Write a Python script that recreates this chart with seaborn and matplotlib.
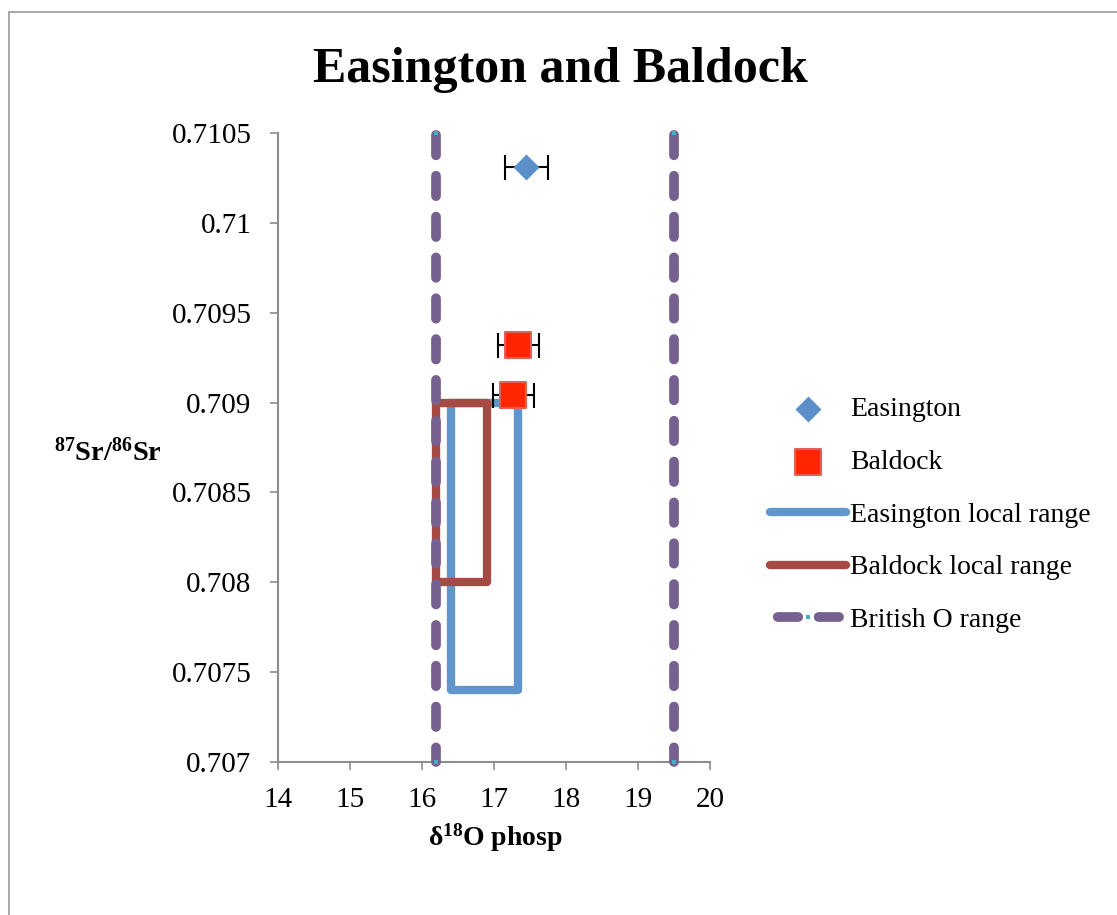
import matplotlib
matplotlib.use("Agg")
import matplotlib.pyplot as plt
import seaborn as sns
import pandas as pd
from matplotlib.patches import Rectangle

# ---- data ----
easington_x = [17.45]
easington_y = [0.71031]
easington_xerr = [0.3]

baldock_x = [17.34, 17.27]
baldock_y = [0.70932, 0.70904]
baldock_xerr = [0.29, 0.29]

eas_range_x = [16.40, 16.40, 17.33, 17.33, 16.40]
eas_range_y = [0.7090, 0.7074, 0.7074, 0.7090, 0.7090]

bal_range_x = [16.20, 16.20, 16.90, 16.90, 16.20]
bal_range_y = [0.7090, 0.7080, 0.7080, 0.7090, 0.7090]

brit_lo_x = [16.2, 16.2]
brit_hi_x = [19.5, 19.5]
brit_y = [0.707, 0.7105]

x_ticks = [14, 15, 16, 17, 18, 19, 20]
y_ticks = [0.707, 0.7075, 0.708, 0.7085, 0.709, 0.7095, 0.71, 0.7105]
y_tick_labels = ["0.707", "0.7075", "0.708", "0.7085", "0.709", "0.7095", "0.71", "0.7105"]

sns.set_style("white")
SERIF = ["Liberation Serif", "DejaVu Serif"]
plt.rcParams["font.family"] = SERIF
plt.rcParams["mathtext.fontset"] = "custom"
plt.rcParams["mathtext.rm"] = "Liberation Serif"
plt.rcParams["mathtext.it"] = "Liberation Serif:italic"
plt.rcParams["mathtext.bf"] = "Liberation Serif:bold"
plt.rcParams["text.color"] = "black"

fig = plt.figure(figsize=(11.17, 9.15), dpi=100)
ax = fig.add_axes([278/1117, 1-762/915, (710-278)/1117, (762-133)/915])

blue = "#6096CB"
red = "#A84A44"
purple = "#76608F"

df_e = pd.DataFrame({"x": eas_range_x, "y": eas_range_y})
df_b = pd.DataFrame({"x": bal_range_x, "y": bal_range_y})
sns.lineplot(data=df_e, x="x", y="y", sort=False, estimator=None, ax=ax,
             color=blue, linewidth=6, label="Easington local range",
             solid_joinstyle="round", solid_capstyle="round", zorder=2)
sns.lineplot(data=df_b, x="x", y="y", sort=False, estimator=None, ax=ax,
             color=red, linewidth=6, label="Baldock local range",
             solid_joinstyle="round", solid_capstyle="round", zorder=3)

for i, xs in enumerate([brit_lo_x, brit_hi_x]):
    ax.plot(xs, brit_y, color=purple, linewidth=7, linestyle=(0.6, (2.1, 2.1)),
            dash_capstyle="round", marker="s", markersize=3.5,
            markerfacecolor="#4BACC6", markeredgewidth=0, clip_on=False,
            label="British O range" if i == 0 else None, zorder=4)

ax.errorbar(easington_x, easington_y, xerr=easington_xerr, fmt="none",
            ecolor="black", elinewidth=1.5, capsize=9, capthick=1.5, zorder=5)
ax.errorbar(baldock_x, baldock_y, xerr=baldock_xerr, fmt="none",
            ecolor="black", elinewidth=1.5, capsize=9, capthick=1.5, zorder=5)

sns.scatterplot(x=easington_x, y=easington_y, ax=ax, marker="D", s=175,
                color="#5B8FC9", edgecolor="#5B8FC9", linewidth=0,
                label="Easington", zorder=6)
sns.scatterplot(x=baldock_x, y=baldock_y, ax=ax, marker="s", s=330,
                color="#FF2600", edgecolor="#E0605A", linewidth=1.5,
                label="Baldock", zorder=6)

ax.set_xlim(14, 20)
ax.set_ylim(0.707, 0.7105)
ax.set_xticks(x_ticks)
ax.set_xticklabels([str(t) for t in x_ticks])
ax.set_yticks(y_ticks)
ax.set_yticklabels(y_tick_labels)
ax.tick_params(axis="both", which="major", direction="out", length=6, width=1.2,
               color="#8C8C8C", labelsize=21, labelcolor="black")
ax.tick_params(axis="y", pad=13)
ax.tick_params(axis="x", pad=12)
ax.tick_params(bottom=True, left=True)
for s in ["top", "right"]:
    ax.spines[s].set_visible(False)
for s in ["left", "bottom"]:
    ax.spines[s].set_color("#8C8C8C")
    ax.spines[s].set_linewidth(1.5)
ax.grid(False)
ax.set_xlabel("")
ax.set_ylabel("")

fig.text(495/1117, 1-838/915, r"$\mathbf{\delta^{18}O\ phosp}$", ha="center", va="center",
         fontsize=20, color="black")
fig.text(108/1117, 1-452/915, r"$\mathbf{^{87}Sr/^{86}Sr}$", ha="center", va="center",
         fontsize=20.5, color="black")
fig.text(560/1117, 1-70/915, "Easington and Baldock", ha="center", va="center",
         fontsize=36, fontweight="bold", family=SERIF, color="black")

handles, labels = ax.get_legend_handles_labels()
order = ["Easington", "Baldock", "Easington local range", "Baldock local range", "British O range"]
hmap = dict(zip(labels, handles))
leg = ax.legend([hmap[k] for k in order], order, loc="center left",
                bbox_to_anchor=(770/1117, 1-515/915), bbox_transform=fig.transFigure,
                frameon=False, fontsize=20, handlelength=2.75, handletextpad=0.12,
                labelspacing=0.98, borderaxespad=0, borderpad=0)
for t in leg.get_texts():
    t.set_color("black")
leg_lines = leg.legend_handles
leg_lines[4].set_linestyle((3.4, (2.1, 2.1)))
leg_lines[4].set_dash_capstyle("round")

fig.patches.append(Rectangle((9/1117, -0.05), 1.2, 1 - 12/915 + 0.05,
                             transform=fig.transFigure, fill=False,
                             edgecolor="#9A9A9A", linewidth=1.2))

fig.savefig("out.png", dpi=100)
